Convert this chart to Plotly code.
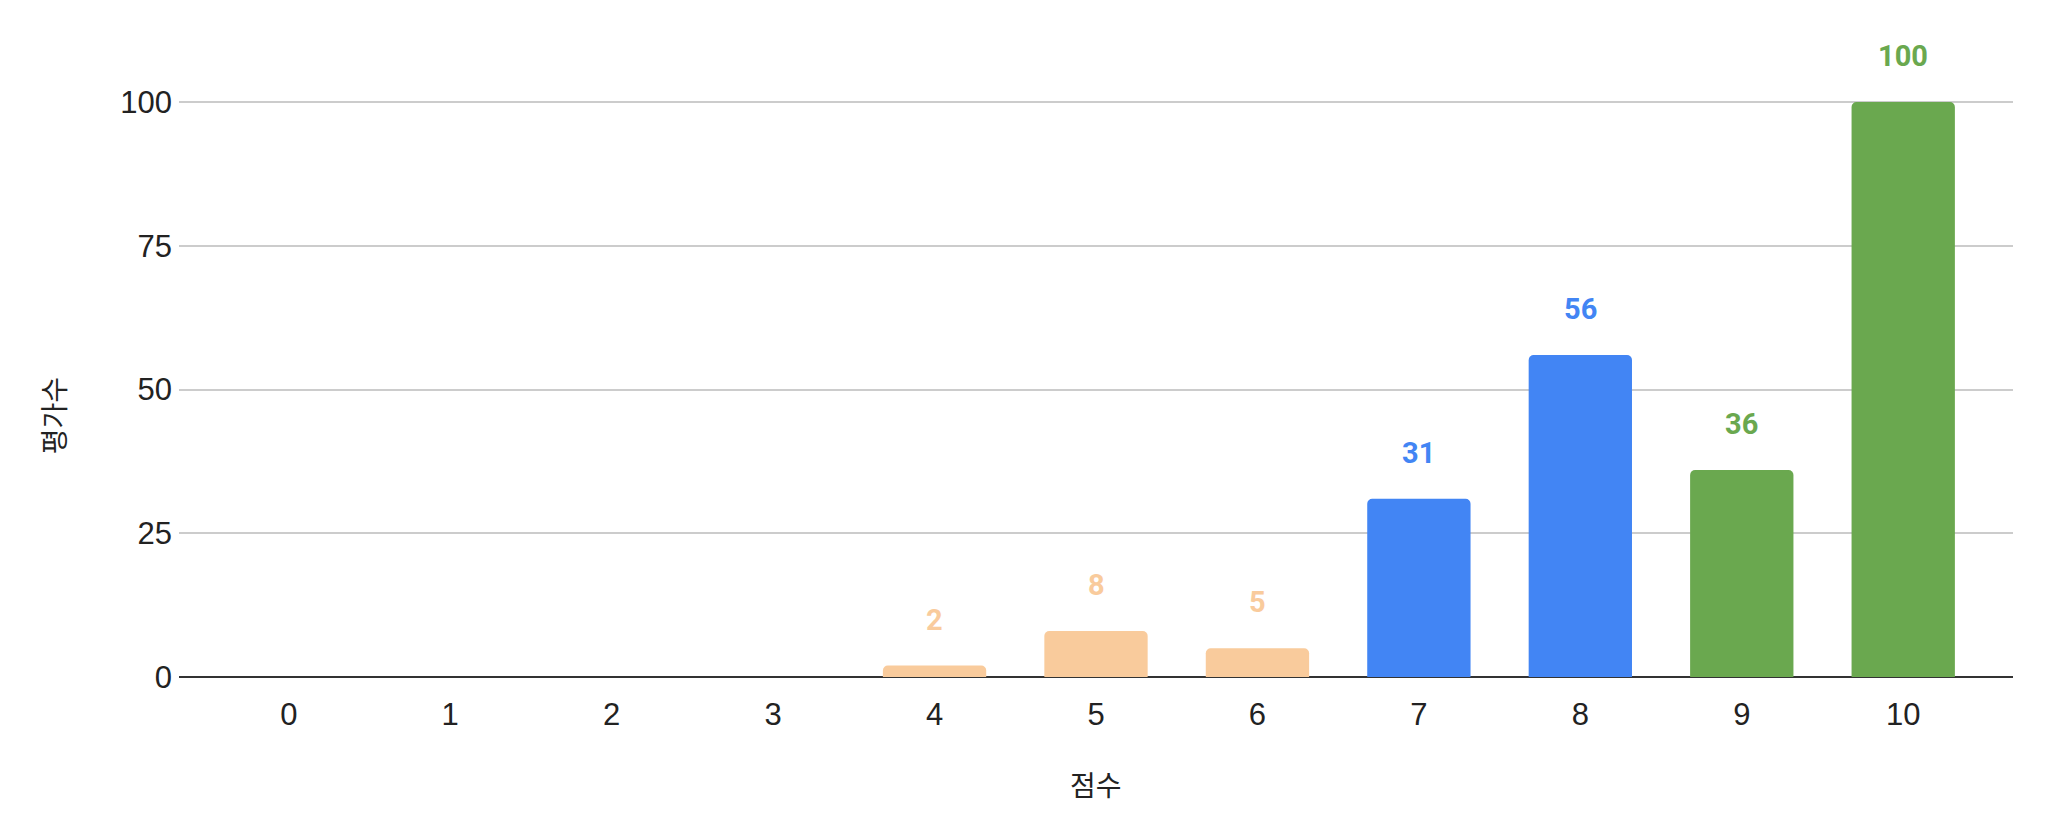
import plotly.graph_objects as go

scores = [0, 1, 2, 3, 4, 5, 6, 7, 8, 9, 10]
counts = [0, 0, 0, 0, 2, 8, 5, 31, 56, 36, 100]
y_ticks = [0, 25, 50, 75, 100]
x_title = "점수"
y_title = "평가수"

PEACH = "#F9CB9C"
BLUE = "#4285F4"
GREEN = "#6AA84F"
def color_for(s):
    if s <= 6:
        return PEACH
    if s <= 8:
        return BLUE
    return GREEN
colors = [color_for(s) for s in scores]

fig = go.Figure()
fig.add_trace(go.Bar(
    x=scores, y=counts, marker=dict(color=colors, cornerradius=5, line=dict(width=0)),
    width=0.64, hoverinfo="skip", showlegend=False,
))

for s, c, col in zip(scores, counts, colors):
    if c > 0:
        fig.add_annotation(x=s, y=c, text=f"<b>{c}</b>", showarrow=False, yshift=46,
                           yanchor="middle", xanchor="center",
                           font=dict(family="Roboto", size=29, color=col))

fig.add_annotation(xref="paper", yref="paper", x=0.5, y=-0.168, text=x_title, showarrow=False,
                   yanchor="middle", font=dict(family="Noto Sans CJK KR, Liberation Sans", size=28, color="#222"))
fig.add_annotation(xref="paper", yref="paper", x=-0.069, y=0.41, text=y_title, showarrow=False,
                   textangle=-90, xanchor="center", yanchor="middle",
                   font=dict(family="Noto Sans CJK KR, Liberation Sans", size=28, color="#222"))

fig.update_layout(
    width=2040, height=822,
    margin=dict(l=171, r=35, t=32, b=153),
    paper_bgcolor="white", plot_bgcolor="white",
    font=dict(family="Liberation Sans, Arial", size=31, color="#222"),
    xaxis=dict(range=[-0.68, 10.68], tickvals=scores, ticktext=[str(s) for s in scores],
               showgrid=False, zeroline=False, showline=False, ticks="",
               ticklabelstandoff=16, tickfont=dict(size=31, color="#222")),
    yaxis=dict(range=[0, 110.8], tickvals=y_ticks, showgrid=True, gridcolor="#CCCCCC", gridwidth=2,
               zeroline=True, zerolinecolor="#333333", zerolinewidth=2, showline=False, ticks="",
               ticklabelstandoff=6, tickfont=dict(size=31, color="#222")),
)

fig.write_html("out.html")
